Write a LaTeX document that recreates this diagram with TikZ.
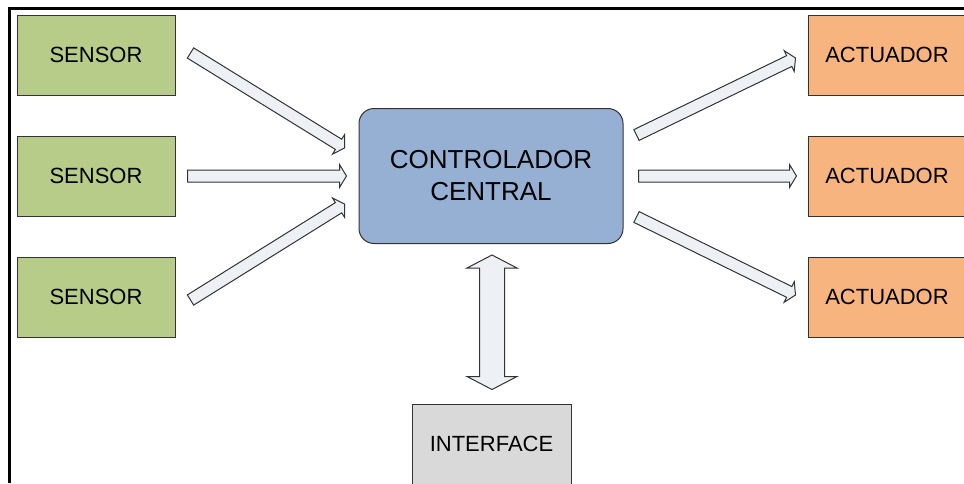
\documentclass[tikz,border=0pt]{standalone}
\usepackage{fontspec}
\setmainfont{Liberation Sans}
\usetikzlibrary{positioning,calc}
\definecolor{sensgreen}{HTML}{B6CC88}
\definecolor{actorange}{HTML}{F8B47E}
\definecolor{ctrlblue}{HTML}{95B0D3}
\definecolor{ifacegray}{HTML}{D9D9D9}
\definecolor{arrowfill}{HTML}{EDF0F5}
\definecolor{edgegray}{HTML}{333333}
\newcommand{\blockarrow}[2]{%
  \coordinate (hb) at ($(#2)!7pt!(#1)$);
  \draw[blockarr] ($(#1)!6pt!90:(#2)$) -- ($(hb)!6pt!90:(#2)$) -- ($(hb)!11.5pt!90:(#2)$) -- (#2)
    -- ($(hb)!11.5pt!-90:(#2)$) -- ($(hb)!6pt!-90:(#2)$) -- ($(#1)!6pt!-90:(#2)$) -- cycle;}
\newcommand{\dblockarrow}[2]{%
  \coordinate (hba) at ($(#1)!13pt!(#2)$);
  \coordinate (hbb) at ($(#2)!13pt!(#1)$);
  \draw[blockarr] (#1) -- ($(hba)!25pt!90:(#2)$) -- ($(hba)!12.5pt!90:(#2)$) -- ($(hbb)!12.5pt!90:(#2)$)
    -- ($(hbb)!25pt!90:(#2)$) -- (#2) -- ($(hbb)!25pt!-90:(#2)$) -- ($(hbb)!12.5pt!-90:(#2)$)
    -- ($(hba)!12.5pt!-90:(#2)$) -- ($(hba)!25pt!-90:(#2)$) -- cycle;}

\begin{document}
\begin{tikzpicture}[x=1pt, y=-1pt, node distance=40pt,
    box/.style={draw=edgegray, line width=1pt, minimum width=158pt, minimum height=80pt, inner sep=0pt,
      font=\fontsize{22}{26}\selectfont, text=black},
    sensbox/.style={box, fill=sensgreen},
    actbox/.style={box, fill=actorange},
    blockarr/.style={draw=edgegray, fill=arrowfill, line width=1pt, line join=miter}]
  \useasboundingbox (0,0) rectangle (964,483);
  \draw[line width=3pt] (964,8.5) -- (9.5,8.5) -- (9.5,483);
  \node[sensbox] (s1) at (96,55) {SENSOR};
  \node[sensbox, below=of s1] (s2) {SENSOR};
  \node[sensbox, below=of s2] (s3) {SENSOR};
  \node[actbox] (a1) at (887,55) {ACTUADOR};
  \node[actbox, below=of a1] (a2) {ACTUADOR};
  \node[actbox, below=of a2] (a3) {ACTUADOR};
  \node[draw=edgegray, line width=1pt, fill=ctrlblue, rounded corners=15pt, minimum width=264pt, minimum height=135pt,
    align=center, font=\fontsize{26}{32}\selectfont, text=black] (ctrl) at (491,176) {CONTROLADOR\\CENTRAL};
  \node[box, fill=ifacegray, minimum width=159pt] (iface) at (491.5,444) {INTERFACE};
  \coordinate (s1o) at ($(s1.east)+(15,-2)$);
  \coordinate (s2o) at ($(s2.east)+(12,0)$);
  \coordinate (s3o) at ($(s3.east)+(15,3)$);
  \coordinate (c1i) at ($(ctrl.west)+(-14,-28)$);
  \coordinate (c2i) at ($(ctrl.west)+(-12,0)$);
  \coordinate (c3i) at ($(ctrl.west)+(-14,28)$);
  \coordinate (c1o) at ($(ctrl.east)+(13,-41)$);
  \coordinate (c2o) at ($(ctrl.east)+(15,0)$);
  \coordinate (c3o) at ($(ctrl.east)+(13,41)$);
  \coordinate (a1i) at ($(a1.west)+(-12,3)$);
  \coordinate (a2i) at ($(a2.west)+(-11,0)$);
  \coordinate (a3i) at ($(a3.west)+(-12,-2)$);
  \coordinate (cb) at ($(ctrl.south)+(1,11)$);
  \coordinate (it) at ($(iface.north)+(0.5,-14)$);
  \blockarrow{s1o}{c1i}
  \blockarrow{s2o}{c2i}
  \blockarrow{s3o}{c3i}
  \blockarrow{c1o}{a1i}
  \blockarrow{c2o}{a2i}
  \blockarrow{c3o}{a3i}
  \dblockarrow{cb}{it}
\end{tikzpicture}
\end{document}
